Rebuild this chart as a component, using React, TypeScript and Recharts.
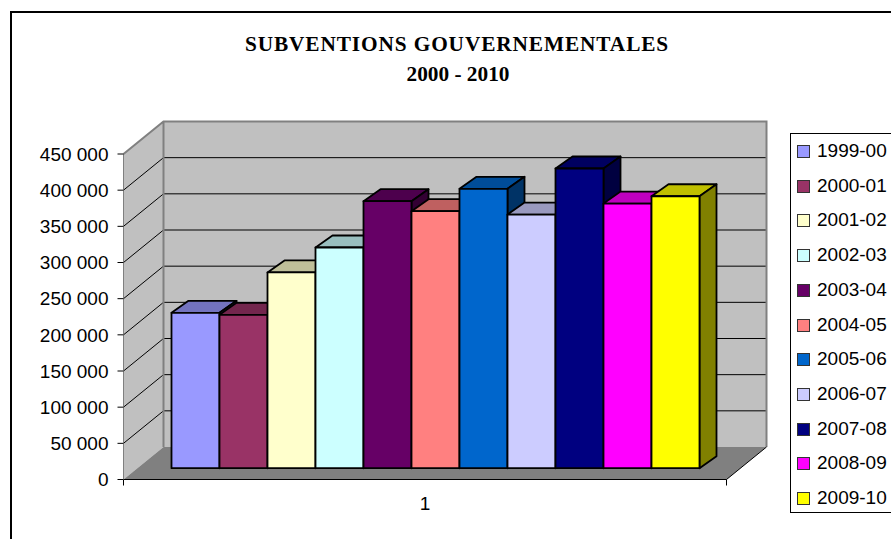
import React from 'react';
import { BarChart, Bar, XAxis, YAxis, Legend, usePlotArea } from 'recharts';

const categories = ['1'];
const seasons = ['1999-00', '2000-01', '2001-02', '2002-03', '2003-04', '2004-05', '2005-06', '2006-07', '2007-08', '2008-09', '2009-10'];
const subventions = [214800, 212100, 270600, 305100, 369100, 355300, 386300, 350700, 414300, 365900, 376000];
const barColors = ['#9999FF', '#993366', '#FFFFCC', '#CCFFFF', '#660066', '#FF8080', '#0066CC', '#CCCCFF', '#000080', '#FF00FF', '#FFFF00'];
const yTicks = [0, 50000, 100000, 150000, 200000, 250000, 300000, 350000, 400000, 450000];

const data = categories.map((category) => {
    const row: Record<string, string | number> = { category };
    seasons.forEach((s, i) => { row[s] = subventions[i]; });
    return row;
});

// depth of the box behind the front plane
const WALL_DX = 40;
const WALL_DY = -32.5;
// bars stand a bit inside the floor, and have their own depth
const BAR_SHIFT_X = 12;
const BAR_SHIFT_Y = -11.3;
const BAR_DX = 17;
const BAR_DY = -12;

const shade = (hex: string, k: number) => {
    const n = parseInt(hex.slice(1), 16);
    const c = [(n >> 16) & 255, (n >> 8) & 255, n & 255].map((v) => Math.round(v * k));
    return `rgb(${c[0]},${c[1]},${c[2]})`;
};

const formatTick = (v: number) => (v === 0 ? '0' : `${v / 1000} 000`);

function Walls() {
    const plot = usePlotArea();
    if (!plot) return null;
    const { x, y, width, height } = plot;
    const left = x;
    const right = x + width;
    const bottom = y + height;
    return (
        <g>
            <polygon points={`${left},${y} ${left + WALL_DX},${y + WALL_DY} ${left + WALL_DX},${bottom + WALL_DY} ${left},${bottom}`} fill="#C0C0C0" />
            <rect x={left + WALL_DX} y={y + WALL_DY} width={width} height={height} fill="#C0C0C0" />
            <polygon points={`${left},${bottom} ${left + WALL_DX},${bottom + WALL_DY} ${right + WALL_DX},${bottom + WALL_DY} ${right},${bottom}`} fill="#808080" />
            {yTicks.slice(1, -1).map((t) => {
                const ty = bottom - (t / 450000) * height;
                return (
                    <g key={t} stroke="#000" strokeWidth={1}>
                        <line x1={left} y1={ty} x2={left + WALL_DX} y2={ty + WALL_DY} />
                        <line x1={left + WALL_DX} y1={ty + WALL_DY} x2={right + WALL_DX} y2={ty + WALL_DY} />
                    </g>
                );
            })}
            <path
                d={`M${left},${y} L${left + WALL_DX},${y + WALL_DY} L${right + WALL_DX},${y + WALL_DY} L${right + WALL_DX},${bottom + WALL_DY} M${left + WALL_DX},${y + WALL_DY} L${left + WALL_DX},${bottom + WALL_DY}`}
                fill="none"
                stroke="#808080"
                strokeWidth={2}
            />
            <line x1={right} y1={bottom} x2={right + WALL_DX} y2={bottom + WALL_DY} stroke="#000" />
            <line x1={left} y1={bottom} x2={left} y2={bottom + 6} stroke="#000" />
            <line x1={right} y1={bottom} x2={right} y2={bottom + 6} stroke="#000" />
        </g>
    );
}

function Bar3D(props: any) {
    const { x, y, width, height, fill } = props;
    const x0 = x + BAR_SHIFT_X;
    const y0 = y + BAR_SHIFT_Y;
    const x1 = x0 + width;
    const y1 = y0 + height;
    return (
        <g stroke="#000" strokeWidth={1.8} strokeLinejoin="round">
            <polygon points={`${x0},${y0} ${x0 + BAR_DX},${y0 + BAR_DY} ${x1 + BAR_DX},${y0 + BAR_DY} ${x1},${y0}`} fill={shade(fill, 0.75)} />
            <polygon points={`${x1},${y0} ${x1 + BAR_DX},${y0 + BAR_DY} ${x1 + BAR_DX},${y1 + BAR_DY} ${x1},${y1}`} fill={shade(fill, 0.5)} />
            <rect x={x0} y={y0} width={width} height={height} fill={fill} />
        </g>
    );
}

function LegendBox({ payload }: any) {
    return (
        <div style={{ width: 120, height: 380, border: '1.5px solid #000', background: '#fff', boxSizing: 'border-box', position: 'relative' }}>
            {(payload || []).map((item: any, i: number) => (
                <div key={item.value} style={{ position: 'absolute', left: 6, top: 6 + i * 34.7, height: 22, lineHeight: '22px', whiteSpace: 'nowrap', fontFamily: '"Liberation Sans", Arial, sans-serif', fontSize: 19, color: '#000' }}>
                    <span style={{ position: 'absolute', left: 0, top: 5, width: 11, height: 11, background: item.color, border: '1px solid #333' }} />
                    <span style={{ marginLeft: 20 }}>{item.value}</span>
                </div>
            ))}
        </div>
    );
}

function Titles() {
    return (
        <g fontFamily='"Liberation Serif", "Times New Roman", serif' fontWeight="bold" fill="#000" textAnchor="middle" fontSize={21.3}>
            <text x={457} y={50.5} letterSpacing={0.9}>SUBVENTIONS GOUVERNEMENTALES</text>
            <text x={458} y={81}>2000 - 2010</text>
        </g>
    );
}

export default function App() {
    return (
        <div style={{ position: 'absolute', left: 0, top: 0, width: 891, height: 539, overflow: 'hidden', background: '#fff' }}>
            <div style={{ position: 'absolute', left: 10, top: 11, width: 1000, height: 700, border: '2px solid #000' }} />
            <div style={{ position: 'absolute', left: 0, top: 0 }}>
                <BarChart
                    width={891}
                    height={539}
                    data={data}
                    barGap={0}
                    barCategoryGap={36}
                    margin={{ top: 154, right: 164.5, bottom: 29.5, left: 63.5 }}
                >
                    <Walls />
                    <Titles />
                    <XAxis
                        dataKey="category"
                        height={30}
                        tickLine={false}
                        axisLine={{ stroke: '#000' }}
                        tick={{ fill: '#000', fontSize: 19, fontFamily: '"Liberation Sans", Arial, sans-serif' }}
                        tickMargin={11}
                    />
                    <YAxis
                        width={60}
                        domain={[0, 450000]}
                        ticks={yTicks}
                        interval={0}
                        tickFormatter={formatTick}
                        axisLine={{ stroke: '#808080' }}
                        tickLine={{ stroke: '#000' }}
                        tickSize={6}
                        tickMargin={9}
                        tick={{ fill: '#000', fontSize: 19, fontFamily: '"Liberation Sans", Arial, sans-serif' }}
                    />
                    {seasons.map((s, i) => (
                        <Bar key={s} dataKey={s} name={s} fill={barColors[i]} shape={<Bar3D />} isAnimationActive={false} />
                    ))}
                    <Legend
                        layout="vertical"
                        align="center"
                        verticalAlign="middle"
                        content={<LegendBox />}
                        wrapperStyle={{ left: 790, top: 133, width: 120, height: 382, bottom: 'auto', right: 'auto', transform: 'none' }}
                    />
                </BarChart>
            </div>
        </div>
    );
}
